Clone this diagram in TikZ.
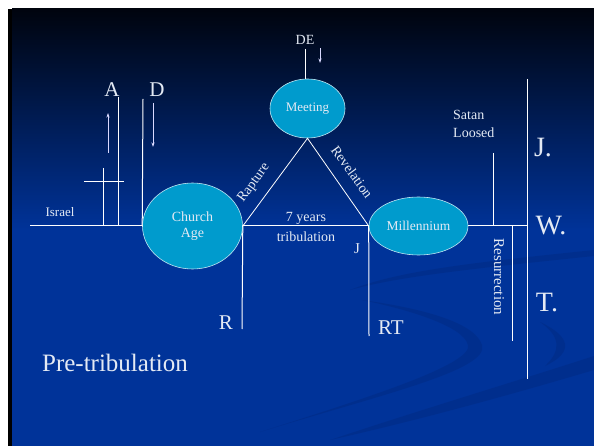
\documentclass[tikz,border=0pt]{standalone}
\usepackage{fontspec}
\setmainfont{Liberation Serif}
\usetikzlibrary{shapes.geometric,arrows.meta}
\definecolor{bgblue}{RGB}{0,51,153}
\definecolor{bgtop}{RGB}{0,4,14}
\definecolor{ellfill}{RGB}{0,155,205}
\definecolor{txt}{RGB}{228,234,244}
\definecolor{swoosh}{RGB}{0,43,132}
\begin{document}
\begin{tikzpicture}[x=1pt,y=-1pt,
 line/.style={white, line width=1pt},
 arr/.style={white!85!blue, line width=0.8pt, -{Stealth[length=4.5pt,width=3pt]}},
 ell/.style={ellipse, fill=ellfill, draw=white!75!ellfill, line width=0.6pt, inner sep=0pt, text=txt, align=center},
 lbl/.style={text=txt, inner sep=0pt},
 swoo/.style={fill=swoosh, fill opacity=0.55},
]
\useasboundingbox (0,0) rectangle (594,446);
\fill[white] (0,0) rectangle (594,446);
\fill[black] (8,9) rectangle (594,446);
\shade[top color=bgtop, bottom color=bgblue] (12,9) rectangle (594,230);
\fill[bgblue] (12,229.5) rectangle (594,446);
% background swooshes
\fill[swoo] (260,432) .. controls (380,395) and (490,370) .. (482,345)
   .. controls (475,322) and (420,308) .. (362,300)
   .. controls (420,312) and (470,330) .. (468,348)
   .. controls (462,368) and (360,400) .. (260,432) -- cycle;
\fill[swoo] (330,440) .. controls (420,410) and (520,380) .. (594,356)
   -- (594,370) .. controls (520,392) and (420,420) .. (330,440) -- cycle;
\fill[swoo] (545,366) .. controls (575,352) and (570,336) .. (540,322)
   .. controls (560,336) and (562,350) .. (545,366) -- cycle;
\fill[swoo] (350,290) .. controls (400,270) and (480,262) .. (594,250)
   -- (594,256) .. controls (480,268) and (400,276) .. (350,290) -- cycle;
% nodes
\node[ell, minimum width=100pt, minimum height=86pt, font=\fontsize{14}{16}\selectfont] (church) at (192.5,226) {Church\\Age};
\node[ell, minimum width=75pt, minimum height=59pt, font=\fontsize{13}{15}\selectfont] (meeting) at (307.5,108.5) {Meeting};
\node[ell, minimum width=99pt, minimum height=58pt, font=\fontsize{13.5}{15}\selectfont] (mill) at (418.5,226) {Millennium};
% coordinates
\coordinate (israelL) at (30,226);
\coordinate (jwtM) at (527,226);
\coordinate (jwtTop) at (527,79);
\coordinate (jwtBot) at (527,379);
\coordinate (satTop) at (493,153);
\coordinate (satBot) at (493,226);
\coordinate (resTop) at (512,226);
\coordinate (resBot) at (512,341);
\coordinate (rtBot) at (369,336);
\coordinate (rBot) at (242,329);
\coordinate (deTop) at (305,49);
\coordinate (aTop) at (118,97);
\coordinate (aBot) at (118,226);
\coordinate (crTop) at (103,168);
\coordinate (crBot) at (103,226);
\coordinate (crL) at (84,182);
\coordinate (crR) at (124,182);
\coordinate (dTop) at (143,99);
\coordinate (upS) at (108,153);
\coordinate (upE) at (108,113);
\coordinate (dnS) at (153,103);
\coordinate (dnE) at (153,147);
\coordinate (deS) at (320,48);
\coordinate (deE) at (320,63);
% lines
\draw[line] (israelL) -- (church.west);
\draw[line] (church.east) -- (mill.west);
\draw[line] (mill.east) -- (jwtM);
\draw[line] (jwtTop) -- (jwtBot);
\draw[line] (satTop) -- (satBot);
\draw[line] (resTop) -- (resBot);
\draw[line] (mill.west) -- (rtBot);
\draw[line] (church.east) -- (rBot);
\draw[line, line width=0.8pt] (church.east) -- (meeting.south) -- (mill.west);
\draw[line] (deTop) -- (deTop |- meeting.north);
\draw[line] (aTop) -- (aBot);
\draw[line] (crTop) -- (crBot);
\draw[line] (crL) -- (crR);
\draw[line] (dTop) -- (church.west);
\draw[arr] (upS) -- (upE);
\draw[arr] (dnS) -- (dnE);
\draw[arr] (deS) -- (deE);
% labels
\node[lbl, font=\fontsize{14}{16}\selectfont] (de) at (305,40) {DE};
\node[lbl, font=\fontsize{21}{23}\selectfont] (a) at (112,90) {A};
\node[lbl, font=\fontsize{21}{23}\selectfont] (d) at (157,90) {D};
\node[lbl, font=\fontsize{13}{15}\selectfont] (israel) at (60,212) {Israel};
\node[lbl, font=\fontsize{14}{18}\selectfont, align=left, anchor=west] (satan) at (453,124) {Satan\\Loosed};
\node[lbl, font=\fontsize{28}{30}\selectfont] (j1) at (543,148) {J.};
\node[lbl, font=\fontsize{28}{30}\selectfont] (w1) at (551,226) {W.};
\node[lbl, font=\fontsize{28}{30}\selectfont] (t1) at (547,303) {T.};
\node[lbl, font=\fontsize{21}{23}\selectfont] (r) at (226,323) {R};
\node[lbl, font=\fontsize{21}{23}\selectfont] (rt) at (391,328) {RT};
\node[lbl, font=\fontsize{15}{17}\selectfont] (j) at (357,249) {J};
\node[lbl, font=\fontsize{14}{16}\selectfont] (years) at (306,218) {7 years};
\node[lbl, font=\fontsize{14}{16}\selectfont] (trib) at (306,237) {tribulation};
\node[lbl, font=\fontsize{14}{16}\selectfont, rotate=54] (rapture) at (254,183) {Rapture};
\node[lbl, font=\fontsize{14}{16}\selectfont, rotate=-54] (revel) at (352,172) {Revelation};
\node[lbl, font=\fontsize{15}{17}\selectfont, rotate=-90] (resur) at (499,277) {Resurrection};
\node[lbl, font=\fontsize{25}{27}\selectfont] (pre) at (115,363) {Pre-tribulation};
\end{tikzpicture}
\end{document}
